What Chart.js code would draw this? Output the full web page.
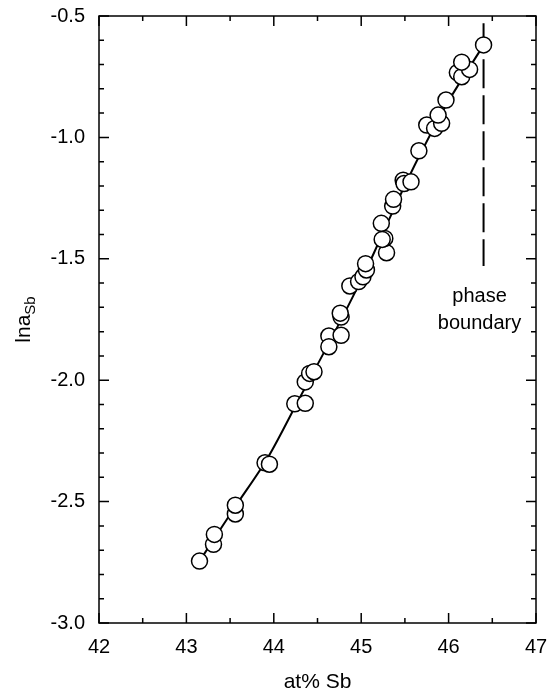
<!DOCTYPE html>
<html>
<head>
<meta charset="utf-8">
<script src="https://cdn.jsdelivr.net/npm/chart.js@4.4.1/dist/chart.umd.min.js"></script>
<style>
  body { margin: 0; background: #fff; }
</style>
</head>
<body>
<canvas id="chartLnA" width="558" height="693"></canvas>
<script>
// measured points: at% Sb vs ln a(Sb)
var atPct = [43.15, 43.31, 43.32, 43.56, 43.56, 43.90, 43.95, 44.24, 44.36, 44.36,
  44.41, 44.46, 44.63, 44.77, 44.63, 44.77, 44.76, 44.87, 44.97, 45.02,
  45.06, 45.05, 45.29, 45.27, 45.24, 45.23, 45.36, 45.37, 45.48, 45.49,
  45.57, 45.66, 45.75, 45.84, 45.92, 45.88, 45.97, 46.10, 46.15, 46.24,
  46.15, 46.40];
var lnA = [-2.745, -2.676, -2.635, -2.551, -2.515, -2.340, -2.346, -2.097, -2.095, -2.007,
  -1.972, -1.965, -1.818, -1.815, -1.862, -1.740, -1.724, -1.612, -1.594, -1.574,
  -1.546, -1.520, -1.475, -1.416, -1.420, -1.354, -1.283, -1.255, -1.176, -1.190,
  -1.183, -1.055, -0.949, -0.963, -0.942, -0.908, -0.846, -0.733, -0.750, -0.720,
  -0.690, -0.619];

// drawn curve through the data
var fitX = [43.15, 43.56, 43.93, 44.30, 44.70, 45.05, 45.38, 45.66, 46.00, 46.40];
var fitY = [-2.745, -2.52, -2.32, -2.07, -1.80, -1.55, -1.29, -1.08, -0.85, -0.62];

// phase boundary marker
var boundaryX = [46.4, 46.4];
var boundaryY = [-0.53, -1.53];

var xMajor = [42, 43, 44, 45, 46, 47];
var yMajor = [-3.0, -2.5, -2.0, -1.5, -1.0, -0.5];

function pairs(xs, ys) {
  return xs.map(function (x, i) { return { x: x, y: ys[i] }; });
}

var fontFam = '"Liberation Sans", Arial, sans-serif';

var framePlugin = {
  id: 'frame',
  beforeDatasetsDraw: function (chart) {
    var c = chart.ctx, a = chart.chartArea;
    var sx = chart.scales.x, sy = chart.scales.y;
    c.save();
    c.strokeStyle = '#000';
    c.lineWidth = 1.5;
    c.strokeRect(a.left, a.top, a.right - a.left, a.bottom - a.top);
    c.beginPath();
    // x ticks, bottom and top, every 0.5
    for (var i = 0; i <= 10; i++) {
      var px = sx.getPixelForValue(42 + i * 0.5);
      var len = (i % 2 === 0) ? 10 : 5;
      c.moveTo(px, a.bottom); c.lineTo(px, a.bottom - len);
      c.moveTo(px, a.top); c.lineTo(px, a.top + len);
    }
    // y ticks, left and right, every 0.1
    for (var j = 0; j <= 25; j++) {
      var py = sy.getPixelForValue(-3 + j * 0.1);
      var l2 = (j % 5 === 0) ? 10 : 5;
      c.moveTo(a.left, py); c.lineTo(a.left + l2, py);
      c.moveTo(a.right, py); c.lineTo(a.right - l2, py);
    }
    c.stroke();
    c.restore();
  },
  afterDraw: function (chart) {
    var c = chart.ctx, a = chart.chartArea;
    var sx = chart.scales.x, sy = chart.scales.y;
    c.save();
    c.fillStyle = '#000';
    // x title
    c.font = '21px ' + fontFam;
    c.textAlign = 'center';
    c.textBaseline = 'middle';
    c.fillText('at% Sb', (a.left + a.right) / 2, 682);
    // y title with subscript
    c.save();
    c.translate(24, (a.top + a.bottom) / 2);
    c.rotate(-Math.PI / 2);
    c.font = '21px ' + fontFam;
    var w1 = c.measureText('lna').width;
    c.font = '15px ' + fontFam;
    var w2 = c.measureText('Sb').width;
    var x0 = -(w1 + w2) / 2;
    c.textAlign = 'left';
    c.textBaseline = 'alphabetic';
    c.font = '21px ' + fontFam;
    c.fillText('lna', x0, 6);
    c.font = '15px ' + fontFam;
    c.fillText('Sb', x0 + w1, 11);
    c.restore();
    // phase boundary label
    var bx = sx.getPixelForValue(boundaryX[1]) - 4;
    var by = sy.getPixelForValue(boundaryY[1]);
    c.font = '20px ' + fontFam;
    c.textAlign = 'center';
    c.textBaseline = 'alphabetic';
    c.fillText('phase', bx, by + 36);
    c.fillText('boundary', bx, by + 63);
    c.restore();
  }
};

var ctx = document.getElementById('chartLnA');
var chartLnA = new Chart(ctx, {
  type: 'scatter',
  data: {
    datasets: [{
      label: 'data',
      data: pairs(atPct, lnA),
      showLine: false,
      pointRadius: 8,
      pointBackgroundColor: '#fff',
      pointBorderColor: '#000',
      pointBorderWidth: 1.5
    }, {
      label: 'fit',
      data: pairs(fitX, fitY),
      showLine: true,
      pointRadius: 0,
      borderColor: '#000',
      borderWidth: 2,
      tension: 0.3
    }, {
      label: 'boundary',
      data: pairs(boundaryX, boundaryY),
      showLine: true,
      pointRadius: 0,
      borderColor: '#000',
      borderWidth: 2,
      borderDash: [29, 7]
    }]
  },
  options: {
    responsive: false,
    animation: false,
    layout: { padding: { left: 0, top: 16, right: 22, bottom: 0 } },
    scales: {
      x: {
        min: 42,
        max: 47,
        grid: { display: false, drawTicks: false },
        border: { display: false },
        afterFit: function (s) {
          s.height = 70;
          s.paddingLeft = 0;
          s.paddingRight = 0;
        },
        ticks: {
          stepSize: 0.5,
          padding: 12,
          color: '#000',
          font: { family: fontFam, size: 20 },
          maxRotation: 0,
          autoSkip: false,
          callback: function (v) {
            return xMajor.indexOf(v) >= 0 ? String(v) : '';
          }
        }
      },
      y: {
        min: -3,
        max: -0.5,
        grid: { display: false, drawTicks: false },
        border: { display: false },
        afterFit: function (s) {
          s.width = 99;
          s.paddingTop = 0;
          s.paddingBottom = 0;
        },
        ticks: {
          stepSize: 0.1,
          padding: 14,
          color: '#000',
          font: { family: fontFam, size: 20 },
          autoSkip: false,
          callback: function (v) {
            var r = Math.round(v * 10) / 10;
            return yMajor.indexOf(r) >= 0 ? r.toFixed(1) : '';
          }
        }
      }
    },
    plugins: {
      legend: { display: false },
      tooltip: { enabled: false }
    }
  },
  plugins: [framePlugin]
});
</script>
</body>
</html>
